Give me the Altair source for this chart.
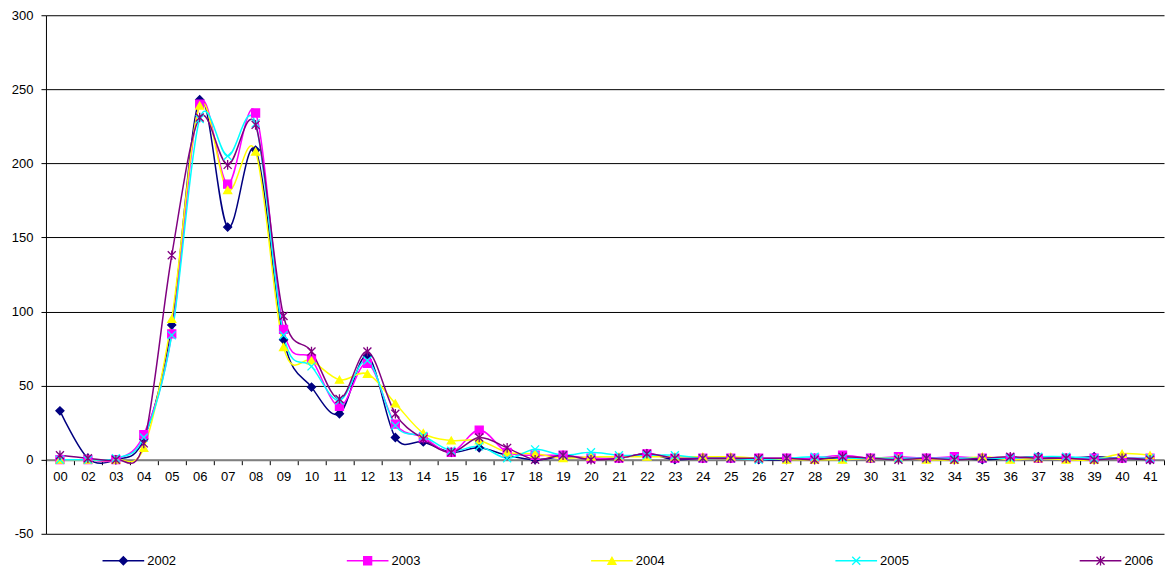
import altair as alt
import pandas as pd

cats = ["00", "02", "03", "04", "05", "06", "07", "08", "09", "10", "11", "12", "13", "14",
        "15", "16", "17", "18", "19", "20", "21", "22", "23", "24", "25", "26", "27", "28",
        "29", "30", "31", "32", "34", "35", "36", "37", "38", "39", "40", "41"]

s2002 = [33, 1, 0, 14, 91, 243, 157, 209, 81, 49, 31, 70, 15, 12, 5, 8, 3, 0, 2, 1, 1, 4, 0, 1, 1, 0, 0, 1, 1, 1, 1, 1, 1, 0, 1, 2, 1, 2, 1, 0]
s2003 = [0, 0, 0, 17, 85, 240, 186, 234, 88, 68, 36, 65, 24, 15, 5, 20, 5, 3, 3, 1, 1, 4, 1, 1, 1, 1, 1, 1, 3, 1, 2, 1, 2, 1, 1, 1, 1, 1, 1, 1]
s2004 = [0, 0, 0, 8, 95, 239, 182, 208, 76, 67, 54, 58, 38, 18, 13, 13, 5, 4, 1, 2, 2, 2, 2, 2, 2, 1, 0, 0, 0, 1, 1, 0, 0, 2, 0, 1, 0, 0, 4, 3]
s2005 = [0, 0, 1, 15, 84, 230, 205, 227, 84, 63, 40, 67, 23, 16, 6, 9, 1, 7, 3, 5, 3, 3, 3, 1, 1, 0, 1, 2, 1, 1, 1, 1, 1, 1, 1, 2, 2, 1, 1, 1]
s2006 = [3, 1, 0, 11, 138, 231, 199, 226, 97, 73, 41, 73, 31, 14, 5, 15, 8, 0, 3, 0, 1, 4, 1, 1, 1, 1, 1, 0, 2, 1, 0, 1, 0, 1, 2, 1, 1, 0, 1, 0]

series_names = ["2002", "2003", "2004", "2005", "2006"]
series_vals = [s2002, s2003, s2004, s2005, s2006]
colors = ["#000080", "#FF00FF", "#FFFF00", "#00FFFF", "#800080"]
x_path = "M-1,-1L1,1M-1,1L1,-1"
star_path = "M-1,-1L1,1M-1,1L1,-1M0,-1.2L0,1.2"
shapes = ["diamond", "square", "triangle-up", x_path, star_path]

rows = []
for k, (name, vals) in enumerate(zip(series_names, series_vals)):
    for c, v in zip(cats, vals):
        rows.append({"cat": c, "series": name, "value": v, "ord": k})
df = pd.DataFrame(rows)

W = 1119
H = 519
FONT = "Liberation Sans"

color_scale = alt.Scale(domain=series_names, range=colors)
shape_scale = alt.Scale(domain=series_names, range=shapes)

x_enc = alt.X(
    "cat:N", sort=cats, title=None,
    scale=alt.Scale(type="band", paddingInner=0, paddingOuter=0),
    axis=alt.Axis(labelAngle=0, tickBand="extent", offset=-74.14, domainColor="#808080",
                  domainWidth=2, tickColor="#000000", tickSize=5, labelFontSize=13,
                  labelColor="#000000", labelFont=FONT, labelPadding=6, grid=False),
)
y_enc = alt.Y(
    "value:Q", title=None,
    scale=alt.Scale(domain=[-50, 300], nice=False, zero=False),
    axis=alt.Axis(values=[-50, 0, 50, 100, 150, 200, 250, 300], grid=True, gridColor="#000000",
                  gridWidth=1, domainColor="#000000", tickColor="#000000", tickSize=5,
                  labelFontSize=13, labelColor="#000000", labelFont=FONT, labelPadding=8,
                  labelExpr="'' + datum.value"),
)

lines = alt.Chart(df).mark_line(interpolate="cardinal", strokeWidth=1.5).encode(
    x=x_enc, y=y_enc,
    color=alt.Color("series:N", scale=color_scale, legend=None),
    detail="series:N",
    order=alt.Order("ord:Q"),
)
points = alt.Chart(df).mark_point(filled=True, size=64, strokeWidth=1.3, opacity=1).encode(
    x=x_enc, y=y_enc,
    color=alt.Color("series:N", scale=color_scale, legend=None),
    stroke=alt.Stroke("series:N", scale=color_scale, legend=None),
    shape=alt.Shape("series:N", scale=shape_scale, legend=None),
    order=alt.Order("ord:Q"),
)
main = alt.layer(lines, points).properties(width=W, height=H)

# legend row
leg = pd.DataFrame({"idx": list(range(5)), "series": series_names})
leg_x = alt.Scale(domain=[-0.2315, -0.2315 + 1127 / 246.25], nice=False, zero=False)
leg_base = alt.Chart(leg).transform_calculate(
    x1="datum.idx", x2="datum.idx + 0.1706", xm="datum.idx + 0.0853", xt="datum.idx + 0.183"
)
leg_line = leg_base.mark_rule(strokeWidth=1.5).encode(
    x=alt.X("x1:Q", scale=leg_x, axis=None), x2="x2:Q", y=alt.value(8),
    color=alt.Color("series:N", scale=color_scale, legend=None),
)
leg_pt = leg_base.mark_point(filled=True, size=64, strokeWidth=1.3, opacity=1).encode(
    x=alt.X("xm:Q", scale=leg_x, axis=None), y=alt.value(8),
    color=alt.Color("series:N", scale=color_scale, legend=None),
    stroke=alt.Stroke("series:N", scale=color_scale, legend=None),
    shape=alt.Shape("series:N", scale=shape_scale, legend=None),
)
leg_txt = leg_base.mark_text(align="left", baseline="middle", fontSize=13, font=FONT, color="#000000").encode(
    x=alt.X("xt:Q", scale=leg_x, axis=None), y=alt.value(8), text="series:N",
)
legend = alt.layer(leg_line, leg_pt, leg_txt).properties(width=W, height=16)

chart = alt.vconcat(main, legend, spacing=12).properties(
    padding={"left": 3, "top": 1, "right": 0, "bottom": 0}
).configure(font=FONT).configure_view(strokeWidth=0, strokeOpacity=0, stroke=None)

chart.save("out.html", embed_options={"renderer": "svg", "actions": False})
